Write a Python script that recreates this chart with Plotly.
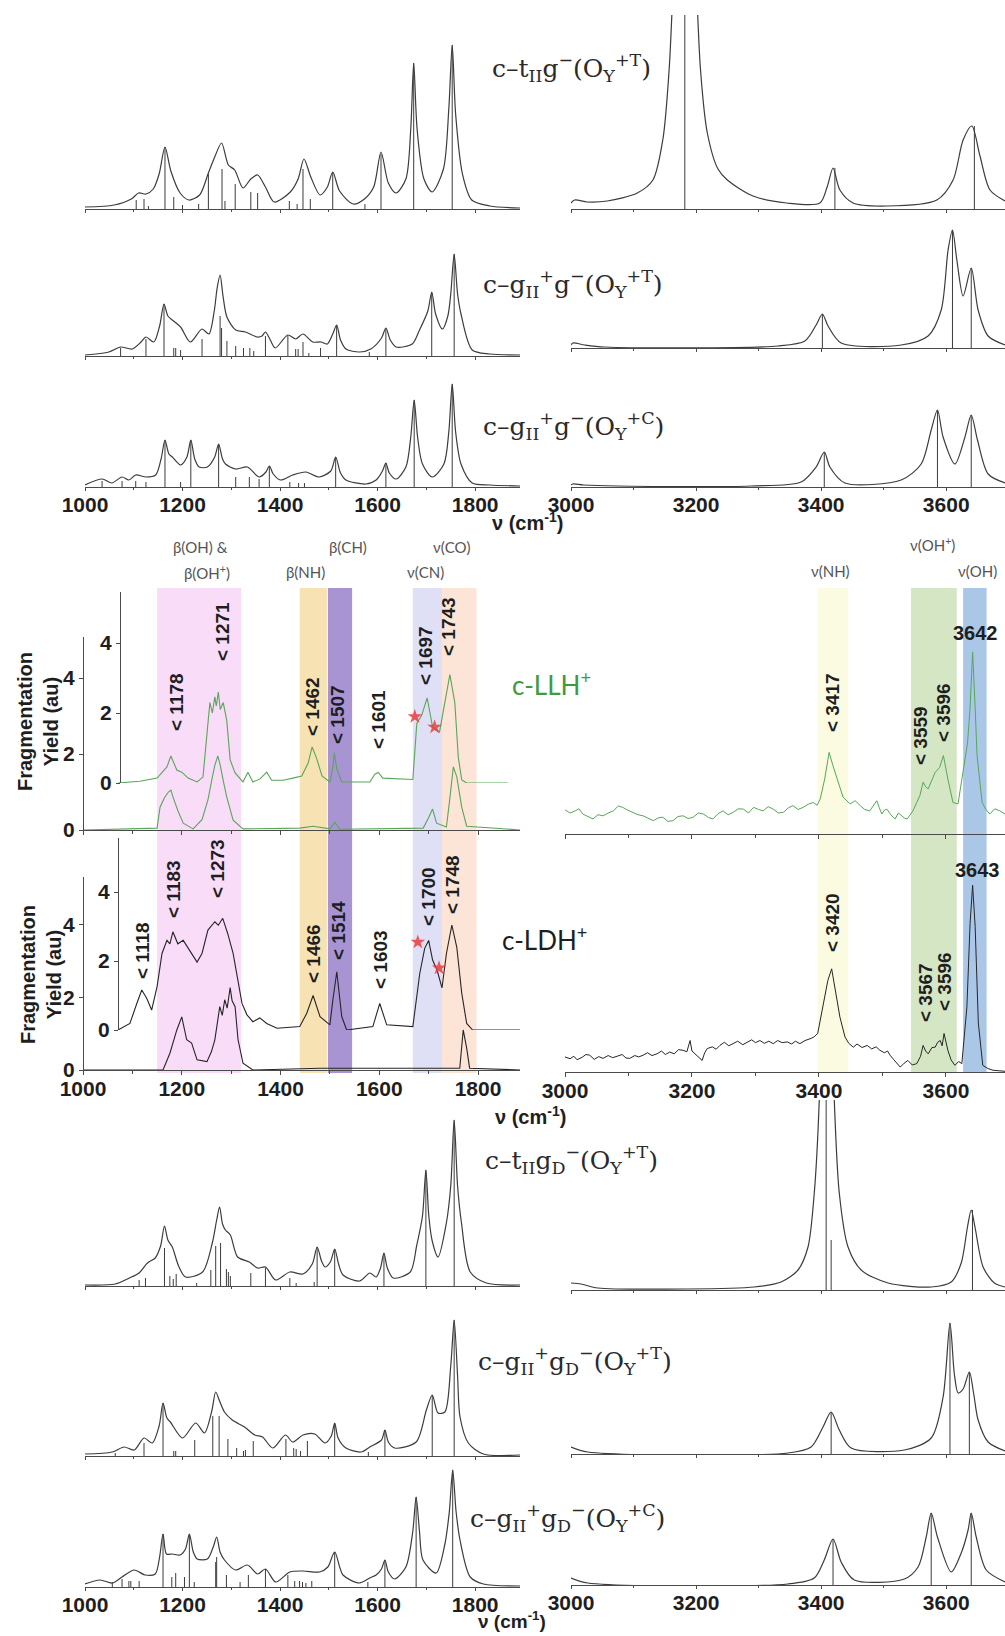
import plotly.graph_objects as go

W, H = 1005, 1636
def px(v): return v / W
def py(v): return 1 - v / H

SANS = "Liberation Sans, Arial, sans-serif"
SERIF = "DejaVu Serif, serif"
LSANS = "Lato, Open Sans, sans-serif"

# ======================= DATA =======================
# ---- calculated spectra (envelope points: cm-1, intensity au) + sticks ----
P1L_X = [1000, 1060, 1095, 1110, 1125, 1140, 1152, 1164, 1176, 1195, 1213, 1235, 1253, 1266, 1280, 1294, 1307, 1324, 1340, 1354, 1370, 1388, 1421, 1437, 1449, 1463, 1482, 1497, 1508, 1522, 1550, 1573, 1592, 1607, 1622, 1638, 1658, 1668, 1674, 1681, 1695, 1712, 1735, 1746, 1753, 1760, 1774, 1793, 1830, 1892]
P1L_Y = [2, 4, 10, 16, 15, 20, 35, 62, 38, 16, 9, 14, 36, 52, 66, 44, 39, 21, 30, 34, 22, 7, 17, 30, 50, 32, 14, 22, 37, 18, 5, 10, 22, 57, 26, 16, 30, 80, 146, 80, 30, 17, 40, 100, 164, 95, 35, 9, 3, 1]
P1L_SX = [1105, 1121, 1130, 1164, 1182, 1200, 1233, 1253, 1281, 1287, 1308, 1340, 1354, 1419, 1435, 1447, 1462, 1508, 1574, 1607, 1674, 1753]
P1L_SH = [9, 10, 3, 62, 12, 4, 5, 35, 40, 8, 25, 17, 16, 8, 5, 40, 10, 37, 5, 55, 146, 164]

P1R_X = [3000, 3006, 3026, 3058, 3106, 3131, 3147, 3157, 3166, 3182, 3198, 3207, 3218, 3235, 3250, 3291, 3345, 3398, 3410, 3419, 3430, 3451, 3505, 3585, 3611, 3627, 3641, 3654, 3670, 3694]
P1R_Y = [6, 9, 7, 8, 16, 29, 70, 140, 260, 420, 260, 140, 76, 40, 29, 13, 6, 6, 23, 41, 19, 6, 3, 9, 29, 69, 83, 53, 19, 8]
P1R_SX = [3182, 3422, 3645]
P1R_SH = [420, 41, 83]

P2L_X = [1000, 1049, 1073, 1097, 1115, 1125, 1141, 1153, 1162, 1170, 1179, 1196, 1216, 1240, 1254, 1265, 1271, 1277, 1283, 1291, 1309, 1329, 1353, 1363, 1370, 1378, 1390, 1416, 1432, 1447, 1467, 1484, 1497, 1508, 1516, 1524, 1535, 1563, 1586, 1608, 1617, 1626, 1638, 1671, 1685, 1703, 1711, 1719, 1733, 1744, 1750, 1757, 1764, 1771, 1794, 1830, 1892]
P2L_Y = [1, 4, 9, 7, 14, 19, 14, 30, 52, 40, 36, 29, 14, 27, 22, 45, 68, 81, 60, 39, 26, 24, 19, 20, 24, 18, 8, 21, 17, 22, 14, 14, 12, 22, 31, 16, 7, 4, 7, 18, 28, 16, 9, 12, 25, 45, 64, 42, 27, 40, 62, 102, 62, 42, 6, 2, 1]
P2L_SX = [1073, 1125, 1162, 1182, 1186, 1196, 1240, 1277, 1280, 1291, 1309, 1325, 1338, 1346, 1370, 1416, 1432, 1437, 1447, 1459, 1483, 1516, 1583, 1617, 1711, 1757]
P2L_SH = [8, 17, 52, 8, 8, 6, 17, 40, 28, 15, 10, 8, 8, 5, 20, 20, 7, 7, 14, 3, 8, 31, 4, 28, 64, 102]

P2R_X = [3000, 3003, 3022, 3054, 3331, 3374, 3392, 3402, 3411, 3432, 3528, 3571, 3592, 3603, 3610, 3617, 3627, 3640, 3651, 3667, 3694]
P2R_Y = [3, 5, 3, 1, 2, 7, 23, 34, 22, 5, 3, 12, 38, 98, 118, 88, 52, 80, 38, 12, 3]
P2R_SX = [3402, 3610, 3640]
P2R_SH = [34, 118, 80]

P3L_X = [1000, 1035, 1055, 1076, 1090, 1104, 1125, 1145, 1156, 1164, 1172, 1179, 1196, 1209, 1217, 1225, 1234, 1251, 1266, 1274, 1282, 1288, 1309, 1333, 1357, 1371, 1378, 1386, 1401, 1426, 1453, 1480, 1504, 1514, 1524, 1535, 1576, 1597, 1610, 1617, 1624, 1638, 1658, 1668, 1675, 1682, 1692, 1712, 1736, 1746, 1753, 1760, 1771, 1794, 1830, 1892]
P3L_Y = [2, 8, 4, 10, 7, 12, 10, 12, 28, 47, 33, 30, 22, 30, 47, 28, 20, 20, 30, 43, 28, 23, 18, 20, 10, 15, 21, 13, 7, 12, 15, 10, 16, 30, 14, 7, 3, 7, 16, 24, 14, 8, 20, 50, 87, 50, 23, 10, 23, 55, 103, 55, 23, 4, 2, 1]
P3L_SX = [1035, 1076, 1104, 1125, 1164, 1196, 1217, 1274, 1309, 1337, 1357, 1378, 1420, 1438, 1450, 1514, 1617, 1675, 1753]
P3L_SH = [6, 6, 6, 5, 47, 5, 47, 43, 10, 10, 8, 21, 5, 4, 4, 30, 24, 87, 103]

P3R_X = [3000, 3003, 3020, 3075, 3288, 3368, 3392, 3405, 3414, 3438, 3528, 3560, 3576, 3586, 3595, 3614, 3630, 3640, 3650, 3667, 3694]
P3R_Y = [2, 3, 2, 1, 1, 5, 20, 35, 20, 4, 7, 23, 57, 77, 50, 23, 50, 72, 47, 13, 4]
P3R_SX = [3405, 3586, 3640]
P3R_SH = [35, 77, 72]

P4L_X = [1000, 1062, 1091, 1111, 1128, 1144, 1155, 1163, 1170, 1179, 1192, 1206, 1241, 1261, 1270, 1276, 1282, 1288, 1298, 1313, 1337, 1354, 1370, 1391, 1420, 1447, 1466, 1476, 1485, 1492, 1503, 1512, 1520, 1529, 1563, 1584, 1597, 1606, 1613, 1620, 1632, 1667, 1680, 1692, 1699, 1705, 1712, 1724, 1741, 1750, 1757, 1764, 1772, 1790, 1823, 1892]
P4L_Y = [1, 2, 8, 13, 23, 28, 40, 60, 46, 39, 20, 9, 14, 43, 66, 79, 62, 56, 51, 29, 24, 18, 19, 6, 14, 12, 22, 39, 25, 19, 24, 37, 22, 11, 5, 13, 9, 18, 33, 18, 8, 14, 40, 70, 116, 70, 45, 29, 63, 100, 166, 100, 63, 14, 3, 1]
P4L_SX = [1111, 1124, 1163, 1174, 1181, 1187, 1229, 1258, 1268, 1278, 1290, 1294, 1298, 1340, 1370, 1420, 1433, 1470, 1476, 1512, 1613, 1699, 1757]
P4L_SH = [6, 8, 38, 10, 7, 12, 3, 16, 40, 43, 17, 14, 10, 13, 18, 8, 3, 4, 39, 37, 33, 116, 166]

P4R_X = [3000, 3016, 3043, 3187, 3293, 3336, 3363, 3379, 3389, 3397, 3404, 3412, 3421, 3429, 3443, 3464, 3507, 3576, 3608, 3624, 3634, 3640, 3646, 3659, 3677, 3694]
P4R_Y = [7, 6, 2, 1, 3, 8, 20, 43, 97, 190, 400, 400, 190, 97, 43, 20, 7, 3, 8, 27, 63, 80, 63, 23, 7, 3]
P4R_SX = [3408, 3416, 3642]
P4R_SH = [400, 50, 80]

P5L_X = [1000, 1056, 1080, 1101, 1121, 1138, 1152, 1160, 1168, 1175, 1200, 1227, 1245, 1260, 1268, 1276, 1286, 1302, 1327, 1348, 1364, 1385, 1411, 1426, 1447, 1471, 1492, 1505, 1512, 1519, 1535, 1566, 1584, 1608, 1615, 1622, 1635, 1679, 1700, 1712, 1724, 1738, 1750, 1757, 1764, 1769, 1786, 1817, 1892]
P5L_Y = [2, 4, 9, 6, 18, 13, 30, 53, 38, 34, 18, 33, 23, 45, 64, 55, 44, 36, 29, 21, 19, 8, 21, 14, 21, 22, 13, 20, 33, 18, 8, 4, 9, 16, 26, 14, 8, 14, 46, 61, 43, 44, 90, 136, 80, 39, 13, 2, 1]
P5L_SX = [1062, 1121, 1160, 1182, 1186, 1225, 1262, 1275, 1293, 1311, 1325, 1329, 1345, 1412, 1428, 1433, 1442, 1456, 1512, 1581, 1615, 1712, 1757]
P5L_SH = [3, 13, 53, 5, 5, 16, 40, 40, 17, 8, 5, 6, 15, 17, 8, 7, 5, 15, 33, 4, 26, 61, 136]

P5R_X = [3000, 3027, 3347, 3384, 3403, 3416, 3429, 3448, 3533, 3576, 3595, 3606, 3613, 3619, 3627, 3637, 3644, 3651, 3667, 3694]
P5R_Y = [7, 2, 1, 7, 27, 42, 24, 6, 4, 16, 57, 131, 80, 61, 65, 82, 60, 34, 12, 3]
P5R_SX = [3416, 3606, 3637]
P5R_SH = [42, 131, 82]

P6L_X = [1000, 1031, 1056, 1076, 1101, 1123, 1144, 1153, 1160, 1167, 1179, 1195, 1206, 1214, 1222, 1230, 1251, 1263, 1270, 1277, 1286, 1309, 1333, 1354, 1370, 1391, 1420, 1447, 1481, 1498, 1512, 1529, 1563, 1584, 1597, 1608, 1615, 1622, 1635, 1658, 1672, 1679, 1686, 1693, 1720, 1738, 1747, 1754, 1761, 1769, 1790, 1817, 1892]
P6L_Y = [3, 7, 4, 10, 17, 12, 13, 30, 53, 33, 33, 32, 38, 53, 35, 28, 28, 40, 50, 35, 27, 17, 22, 13, 18, 5, 15, 16, 15, 20, 35, 12, 4, 9, 12, 18, 27, 15, 8, 20, 55, 90, 55, 27, 14, 43, 75, 117, 75, 47, 10, 3, 1]
P6L_SX = [1056, 1076, 1090, 1094, 1111, 1160, 1178, 1186, 1204, 1214, 1224, 1268, 1270, 1290, 1318, 1335, 1370, 1416, 1430, 1440, 1446, 1453, 1465, 1512, 1580, 1615, 1679, 1754]
P6L_SH = [5, 8, 6, 6, 6, 53, 10, 14, 10, 53, 5, 25, 30, 12, 5, 12, 18, 12, 6, 6, 5, 4, 6, 35, 5, 27, 90, 117]

P6R_X = [3000, 3027, 3347, 3389, 3405, 3419, 3432, 3453, 3533, 3555, 3568, 3576, 3586, 3608, 3624, 3635, 3640, 3648, 3664, 3694]
P6R_Y = [7, 2, 1, 7, 25, 46, 23, 5, 6, 18, 48, 72, 48, 13, 32, 55, 72, 48, 15, 3]
P6R_SX = [3419, 3576, 3640]
P6R_SH = [46, 72, 72]

CALC_NAMES = [
    "c–t<sub>II</sub>g<sup>−</sup>(O<sub>Y</sub><sup>+T</sup>)",
    "c–g<sub>II</sub><sup>+</sup>g<sup>−</sup>(O<sub>Y</sub><sup>+T</sup>)",
    "c–g<sub>II</sub><sup>+</sup>g<sup>−</sup>(O<sub>Y</sub><sup>+C</sup>)",
    "c–t<sub>II</sub>g<sub>D</sub><sup>−</sup>(O<sub>Y</sub><sup>+T</sup>)",
    "c–g<sub>II</sub><sup>+</sup>g<sub>D</sub><sup>−</sup>(O<sub>Y</sub><sup>+T</sup>)",
    "c–g<sub>II</sub><sup>+</sup>g<sub>D</sub><sup>−</sup>(O<sub>Y</sub><sup>+C</sup>)",
]

# ---- experimental spectra (fragmentation yield, au) ----
LLH_UP_X = [1071, 1115, 1150, 1170, 1178, 1190, 1200, 1213, 1231, 1243, 1253, 1257, 1262, 1267, 1270, 1274, 1278, 1284, 1291, 1298, 1308, 1324, 1334, 1344, 1358, 1372, 1382, 1405, 1425, 1443, 1456, 1464, 1473, 1484, 1500, 1506, 1509, 1514, 1524, 1581, 1591, 1598, 1607, 1668, 1676, 1686, 1697, 1708, 1722, 1733, 1743, 1753, 1760, 1767, 1777, 1860]
LLH_UP_Y = [0, 0.05, 0.14, 0.46, 0.77, 0.37, 0.31, 0.14, 0.03, 0.17, 1.7, 2.3, 2.0, 2.46, 2.2, 2.6, 2.1, 2.3, 1.8, 0.66, 0.29, 0.03, 0.31, 0.03, 0.11, 0.31, 0.08, 0.08, 0.14, 0.2, 0.57, 1.03, 0.71, 0.2, 0.03, 0.46, 0.86, 0.4, 0.03, 0.03, 0.25, 0.3, 0.14, 0.1, 1.7, 1.94, 2.43, 1.6, 1.46, 2.3, 3.1, 2.3, 0.74, 0.09, 0, 0]
LLH_LO_X = [1000, 1150, 1156, 1165, 1173, 1178, 1183, 1193, 1203, 1223, 1241, 1253, 1262, 1267, 1273, 1278, 1284, 1291, 1304, 1324, 1439, 1466, 1500, 1510, 1520, 1689, 1699, 1708, 1716, 1736, 1743, 1750, 1757, 1767, 1777, 1885]
LLH_LO_Y = [0, 0.05, 0.6, 0.85, 1.0, 1.05, 0.84, 0.48, 0.18, 0.03, 0.27, 0.79, 1.4, 1.7, 1.95, 1.7, 1.3, 0.87, 0.26, 0.03, 0.05, 0.1, 0.03, 0.2, 0.02, 0.05, 0.3, 0.55, 0.18, 0.08, 0.84, 1.66, 1.4, 0.6, 0.1, 0]
LLH_STAR_X = [1672, 1712]
LLH_STAR_Y = [1.9, 1.6]

LDH_UP_X = [1071, 1095, 1109, 1119, 1129, 1139, 1150, 1160, 1170, 1176, 1182, 1192, 1203, 1213, 1231, 1241, 1253, 1267, 1274, 1283, 1293, 1304, 1312, 1322, 1332, 1344, 1358, 1372, 1393, 1439, 1453, 1466, 1480, 1500, 1506, 1514, 1524, 1534, 1587, 1601, 1615, 1668, 1682, 1692, 1700, 1708, 1717, 1727, 1736, 1747, 1757, 1767, 1777, 1789, 1885]
LDH_UP_Y = [0, 0.19, 0.77, 1.16, 0.92, 0.58, 1.26, 2.22, 2.6, 2.5, 2.85, 2.5, 2.6, 2.37, 1.97, 2.22, 2.9, 3.14, 3.04, 3.24, 2.8, 2.22, 1.55, 0.77, 0.44, 0.24, 0.35, 0.19, 0.05, 0.1, 0.48, 1.0, 0.39, 0.15, 0.87, 1.69, 0.39, 0, 0.1, 0.77, 0.15, 0.1, 1.64, 2.37, 2.6, 2.03, 1.74, 1.22, 2.22, 3.04, 2.4, 1.07, 0.19, 0, 0]
LDH_LO_X = [1000, 1162, 1176, 1190, 1200, 1210, 1220, 1231, 1251, 1260, 1267, 1272, 1277, 1282, 1287, 1292, 1298, 1302, 1308, 1314, 1324, 1344, 1480, 1763, 1770, 1777, 1783, 1885]
LDH_LO_Y = [0, 0, 0.46, 1.1, 1.46, 0.83, 0.74, 0.28, 0.23, 0.5, 0.83, 1.3, 1.74, 1.5, 1.93, 1.7, 2.26, 1.9, 1.74, 0.83, 0.19, 0, 0.05, 0.05, 1.1, 0.6, 0.05, 0]
LDH_STAR_X = [1678, 1721]
LDH_STAR_Y = [2.55, 1.8]

LLH_R_X = [3000, 3008, 3016, 3022, 3028, 3036, 3044, 3052, 3060, 3068, 3076, 3084, 3091, 3099, 3107, 3115, 3123, 3131, 3139, 3147, 3154, 3162, 3170, 3178, 3186, 3194, 3202, 3210, 3218, 3226, 3233, 3241, 3249, 3257, 3265, 3273, 3281, 3289, 3297, 3305, 3312, 3320, 3328, 3336, 3344, 3352, 3359, 3367, 3375, 3383, 3391, 3397, 3402, 3409, 3416, 3422, 3430, 3438, 3449, 3457, 3465, 3472, 3480, 3486, 3491, 3495, 3499, 3503, 3507, 3513, 3520, 3525, 3531, 3535, 3539, 3544, 3548, 3554, 3559, 3564, 3568, 3572, 3578, 3583, 3590, 3596, 3603, 3611, 3619, 3627, 3634, 3638, 3642, 3646, 3649, 3657, 3663, 3669, 3677, 3685, 3693]
LLH_R_Y = [0.69, 0.6, 0.66, 0.72, 0.57, 0.5, 0.43, 0.55, 0.52, 0.6, 0.66, 0.8, 0.76, 0.68, 0.62, 0.55, 0.52, 0.45, 0.38, 0.46, 0.48, 0.36, 0.38, 0.5, 0.52, 0.44, 0.48, 0.6, 0.57, 0.47, 0.43, 0.58, 0.66, 0.55, 0.62, 0.72, 0.71, 0.6, 0.76, 0.7, 0.66, 0.78, 0.71, 0.6, 0.62, 0.75, 0.81, 0.7, 0.76, 0.85, 0.9, 0.82, 1.0, 1.57, 2.33, 1.95, 1.48, 1.05, 0.86, 0.95, 0.81, 0.7, 0.66, 0.8, 0.95, 0.75, 0.57, 0.68, 0.71, 0.55, 0.43, 0.6, 0.52, 0.45, 0.43, 0.55, 0.66, 0.9, 1.1, 1.48, 1.35, 1.29, 1.55, 1.76, 1.9, 2.24, 1.57, 0.9, 0.86, 1.76, 2.6, 3.6, 5.2, 3.6, 2.24, 0.9, 0.7, 0.57, 0.72, 0.66, 0.57]
LDH_R_X = [3000, 3008, 3014, 3019, 3027, 3033, 3039, 3046, 3053, 3060, 3068, 3075, 3082, 3090, 3096, 3102, 3110, 3116, 3123, 3130, 3137, 3145, 3152, 3158, 3165, 3172, 3179, 3186, 3192, 3197, 3200, 3205, 3210, 3216, 3220, 3224, 3232, 3238, 3244, 3251, 3258, 3265, 3272, 3280, 3287, 3294, 3300, 3307, 3314, 3321, 3328, 3335, 3342, 3350, 3357, 3363, 3370, 3378, 3386, 3392, 3398, 3406, 3414, 3420, 3425, 3433, 3441, 3447, 3454, 3460, 3468, 3476, 3483, 3490, 3496, 3503, 3508, 3512, 3518, 3523, 3528, 3534, 3540, 3547, 3554, 3560, 3564, 3568, 3572, 3578, 3583, 3587, 3591, 3594, 3597, 3603, 3608, 3614, 3620, 3625, 3633, 3638, 3642, 3646, 3651, 3658, 3666, 3674, 3683, 3693]
LDH_R_Y = [0.43, 0.38, 0.45, 0.35, 0.42, 0.5, 0.48, 0.36, 0.44, 0.39, 0.47, 0.41, 0.45, 0.5, 0.4, 0.39, 0.47, 0.43, 0.48, 0.55, 0.47, 0.52, 0.6, 0.5, 0.57, 0.52, 0.64, 0.62, 0.58, 0.9, 0.6, 0.52, 0.45, 0.33, 0.55, 0.67, 0.72, 0.65, 0.76, 0.85, 0.75, 0.81, 0.88, 0.78, 0.86, 0.92, 0.84, 0.9, 0.82, 0.88, 0.81, 0.9, 0.84, 0.86, 0.8, 0.88, 0.81, 0.9, 0.95, 1.0, 1.1, 1.86, 2.62, 2.95, 2.43, 1.57, 1.0, 0.82, 0.71, 0.8, 0.7, 0.76, 0.66, 0.72, 0.62, 0.55, 0.6, 0.48, 0.35, 0.25, 0.14, 0.25, 0.33, 0.2, 0.24, 0.45, 0.76, 0.6, 0.52, 0.7, 0.71, 0.85, 0.9, 0.75, 1.1, 0.62, 0.35, 0.19, 0.3, 0.24, 1.86, 4.25, 5.34, 4.16, 1.4, 0.19, 0.1, 0.05, 0.04, 0.02]

# ---- band assignments ----
BANDS_L = [(1150, 1320, "#f8dcf8"), (1439, 1494, "#f7e2b3"), (1496, 1545, "#a994d3"),
           (1668, 1727, "#dfdff6"), (1727, 1797, "#fce5d7")]
BANDS_R = [(3398, 3446, "#fafbe0"), (3545, 3617, "#d5e6c5"), (3627, 3664, "#aac7e8")]
BAND_TEXT = [("β(OH) &", 200, 547), ("β(OH<sup>+</sup>)", 207, 572), ("β(CH)", 348, 547),
             ("β(NH)", 305, 572), ("ν(CO)", 452, 547), ("ν(CN)", 425, 572),
             ("ν(OH<sup>+</sup>)", 932, 544), ("ν(NH)", 830, 571), ("ν(OH)", 977, 571)]

PEAK_LABELS = [("< 1178", 176, 702), ("< 1271", 222, 632), ("< 1462", 312, 707), ("< 1507", 337, 715),
               ("< 1601", 378, 720), ("< 1697", 425, 656), ("< 1743", 448, 627),
               ("< 3417", 832, 703), ("< 3559", 920, 736), ("< 3596", 943, 713),
               ("< 1118", 142, 951), ("< 1183", 173, 889), ("< 1273", 217, 869), ("< 1466", 313, 954),
               ("< 1514", 338, 931), ("< 1603", 380, 960), ("< 1700", 428, 897), ("< 1748", 453, 885),
               ("< 3420", 832, 923), ("< 3567", 925, 993), ("< 3596", 945, 982)]
PEAK_FLAT = [("3642", 975, 633), ("3643", 977, 870)]

LEFT_TICKS = [1000, 1200, 1400, 1600, 1800]
RIGHT_TICKS = [3000, 3200, 3400, 3600]
Y_TICKS = [0, 2, 4]

# ======================= FIGURE =======================
CALC_C = "#3c3c3c"
LLH_C = "#5aa55a"
LDH_C = "#262626"
AX_C = "#4a4a4a"

fig = go.Figure()
lay = {}

def nm(i, k):
    return k if i == 1 else f"{k}{i}"

def lname(i, k):
    return f"{k}axis" if i == 1 else f"{k}axis{i}"

def curve(ix, iy, xs, ys, color, width=1.2, shape="spline"):
    fig.add_trace(go.Scatter(x=xs, y=ys, mode="lines",
                             line=dict(color=color, width=width, shape=shape, smoothing=0.8),
                             xaxis=nm(ix, "x"), yaxis=nm(iy, "y"), hoverinfo="skip"))

def sticks(i, pos, hts, color):
    xs, ys = [], []
    for p, h in zip(pos, hts):
        xs += [p, p, None]
        ys += [0, h, None]
    fig.add_trace(go.Scatter(x=xs, y=ys, mode="lines", line=dict(color=color, width=1),
                             xaxis=nm(i, "x"), yaxis=nm(i, "y"), hoverinfo="skip"))

tickfont = dict(family=SANS, size=21, color="#1e1e1e", weight="bold")

calc = [
    (1, "L", 209, 15, P1L_X, P1L_Y, P1L_SX, P1L_SH, False),
    (2, "R", 209, 15, P1R_X, P1R_Y, P1R_SX, P1R_SH, False),
    (3, "L", 356, 220, P2L_X, P2L_Y, P2L_SX, P2L_SH, False),
    (4, "R", 348, 220, P2R_X, P2R_Y, P2R_SX, P2R_SH, False),
    (5, "L", 487, 370, P3L_X, P3L_Y, P3L_SX, P3L_SH, True),
    (6, "R", 487, 370, P3R_X, P3R_Y, P3R_SX, P3R_SH, True),
    (7, "L", 1286, 1100, P4L_X, P4L_Y, P4L_SX, P4L_SH, False),
    (8, "R", 1290, 1100, P4R_X, P4R_Y, P4R_SX, P4R_SH, False),
    (9, "L", 1456, 1300, P5L_X, P5L_Y, P5L_SX, P5L_SH, False),
    (10, "R", 1454, 1300, P5R_X, P5R_Y, P5R_SX, P5R_SH, False),
    (11, "L", 1587, 1460, P6L_X, P6L_Y, P6L_SX, P6L_SH, True),
    (12, "R", 1585, 1460, P6R_X, P6R_Y, P6R_SX, P6R_SH, True),
]

for i, side, base, top, xs, ys, sx, sh, lab in calc:
    left = side == "L"
    lay[lname(i, "x")] = dict(
        domain=[px(85), px(520)] if left else [px(571), px(1005)],
        range=[1000, 1892] if left else [3000, 3694],
        anchor=nm(i, "y"), showline=True, linecolor=AX_C, linewidth=1,
        ticks="outside", ticklen=3, tickcolor=AX_C,
        tickvals=LEFT_TICKS if left else RIGHT_TICKS,
        minor=dict(dtick=100, ticks="outside", ticklen=2, tickcolor=AX_C),
        showticklabels=lab, tickfont=tickfont, ticklabelstandoff=-4,
        showgrid=False, zeroline=False, automargin=False)
    lay[lname(i, "y")] = dict(domain=[py(base), py(top)], range=[0, base - top], visible=False,
                              automargin=False)
    sticks(i, sx, sh, CALC_C)
    curve(i, i, xs, ys, CALC_C, 1.2, "spline")

def exp_x(i, left, y_anchor, labels):
    lay[lname(i, "x")] = dict(
        domain=[px(83), px(520)] if left else [px(565), px(1005)],
        range=[1000, 1885] if left else [3000, 3693],
        anchor=nm(y_anchor, "y"), showline=True, linecolor=AX_C, linewidth=1.2,
        ticks="outside", ticklen=4, tickcolor=AX_C,
        tickvals=LEFT_TICKS if left else RIGHT_TICKS,
        minor=dict(dtick=100, ticks="outside", ticklen=3, tickcolor=AX_C),
        showticklabels=labels, tickfont=tickfont, ticklabelstandoff=-4,
        showgrid=False, zeroline=False, automargin=False)

def exp_y(i, bot, top, rng, xpos, visible=True):
    lay[lname(i, "y")] = dict(domain=[py(bot), py(top)], range=[0, rng], anchor="free",
                              position=px(xpos), visible=visible, showline=True,
                              linecolor=AX_C, linewidth=1.2, ticks="outside", ticklen=4,
                              tickcolor=AX_C, tickvals=Y_TICKS, tickfont=tickfont,
                              showgrid=False, zeroline=False, automargin=False)

exp_x(13, True, 13, False)
exp_y(13, 830, 637, 5.08, 83)
exp_y(14, 783, 592, 5.46, 120)
exp_x(15, True, 15, True)
exp_y(15, 1070, 877, 5.3, 83)
exp_y(16, 1030, 838, 5.57, 118)
exp_x(17, False, 17, False)
exp_y(17, 834, 592, 6.91, 565, visible=False)
exp_x(18, False, 18, True)
exp_y(18, 1072, 838, 6.69, 565, visible=False)

curve(13, 13, LLH_LO_X, LLH_LO_Y, LLH_C, 1.1, "linear")
curve(13, 14, LLH_UP_X, LLH_UP_Y, LLH_C, 1.1, "linear")
curve(15, 15, LDH_LO_X, LDH_LO_Y, LDH_C, 1.1, "linear")
curve(15, 16, LDH_UP_X, LDH_UP_Y, LDH_C, 1.1, "linear")
curve(17, 17, LLH_R_X, LLH_R_Y, LLH_C, 1.0, "linear")
curve(18, 18, LDH_R_X, LDH_R_Y, LDH_C, 1.0, "linear")

for sx_, sy_, ya in [(LLH_STAR_X, LLH_STAR_Y, 14), (LDH_STAR_X, LDH_STAR_Y, 16)]:
    fig.add_trace(go.Scatter(x=sx_, y=sy_, mode="markers",
                             marker=dict(symbol="star", size=11, color="rgba(235,60,60,0.85)"),
                             xaxis="x13" if ya == 14 else "x15", yaxis=nm(ya, "y"), hoverinfo="skip"))

shapes = []
for x0, x1, c in BANDS_L:
    shapes.append(dict(type="rect", xref="x13", yref="paper", x0=x0, x1=x1, y0=py(1073), y1=py(588),
                       fillcolor=c, line=dict(width=0), layer="below"))
for x0, x1, c in BANDS_R:
    shapes.append(dict(type="rect", xref="x17", yref="paper", x0=x0, x1=x1, y0=py(1072), y1=py(588),
                       fillcolor=c, line=dict(width=0), layer="below"))

ann = []
def A(text, x, y, size, color="#1e1e1e", family=SANS, weight="normal", angle=0, xanchor="center"):
    ann.append(dict(text=text, x=px(x), y=py(y), xref="paper", yref="paper", showarrow=False,
                    textangle=angle, xanchor=xanchor, yanchor="middle",
                    font=dict(family=family, size=size, color=color, weight=weight)))

for t, x, y in BAND_TEXT:
    A(t, x, y, 15, "#555555", LSANS)
for t, x, y in PEAK_LABELS:
    A(t, x, y, 19, "#1e1e1e", SANS, "bold", -90)
for t, x, y in PEAK_FLAT:
    A(t, x, y, 20, "#1e1e1e", SANS, "bold")

for t, (x, y) in zip(CALC_NAMES, [(490, 68), (481, 284), (481, 426), (483, 1160), (476, 1361), (468, 1518)]):
    A(t, x, y, 25, "#2a2a2a", SERIF, "normal", 0, "left")

A("c-LLH<sup>+</sup>", 510, 683, 26, "#3e9a3e", LSANS, "normal", 0, "left")
A("c-LDH<sup>+</sup>", 500, 938, 26, "#1e1e1e", LSANS, "normal", 0, "left")

A("Fragmentation<br>Yield (au)", 38, 722, 20, "#1e1e1e", SANS, "bold", -90)
A("Fragmentation<br>Yield (au)", 41, 975, 20, "#1e1e1e", SANS, "bold", -90)

A("ν (cm<sup>-1</sup>)", 527, 522, 20, "#1e1e1e", SANS, "bold")
A("ν (cm<sup>-1</sup>)", 530, 1115, 20, "#1e1e1e", SANS, "bold")
A("ν (cm<sup>-1</sup>)", 512, 1620, 19, "#1e1e1e", SANS, "bold")

fig.update_layout(width=W, height=H,
                  margin=dict(l=0, r=0, t=0, b=0, pad=0, autoexpand=False), autosize=False,
                  showlegend=False, paper_bgcolor="white", plot_bgcolor="rgba(0,0,0,0)",
                  shapes=shapes, annotations=ann, **lay)

fig.write_html("out.html")
